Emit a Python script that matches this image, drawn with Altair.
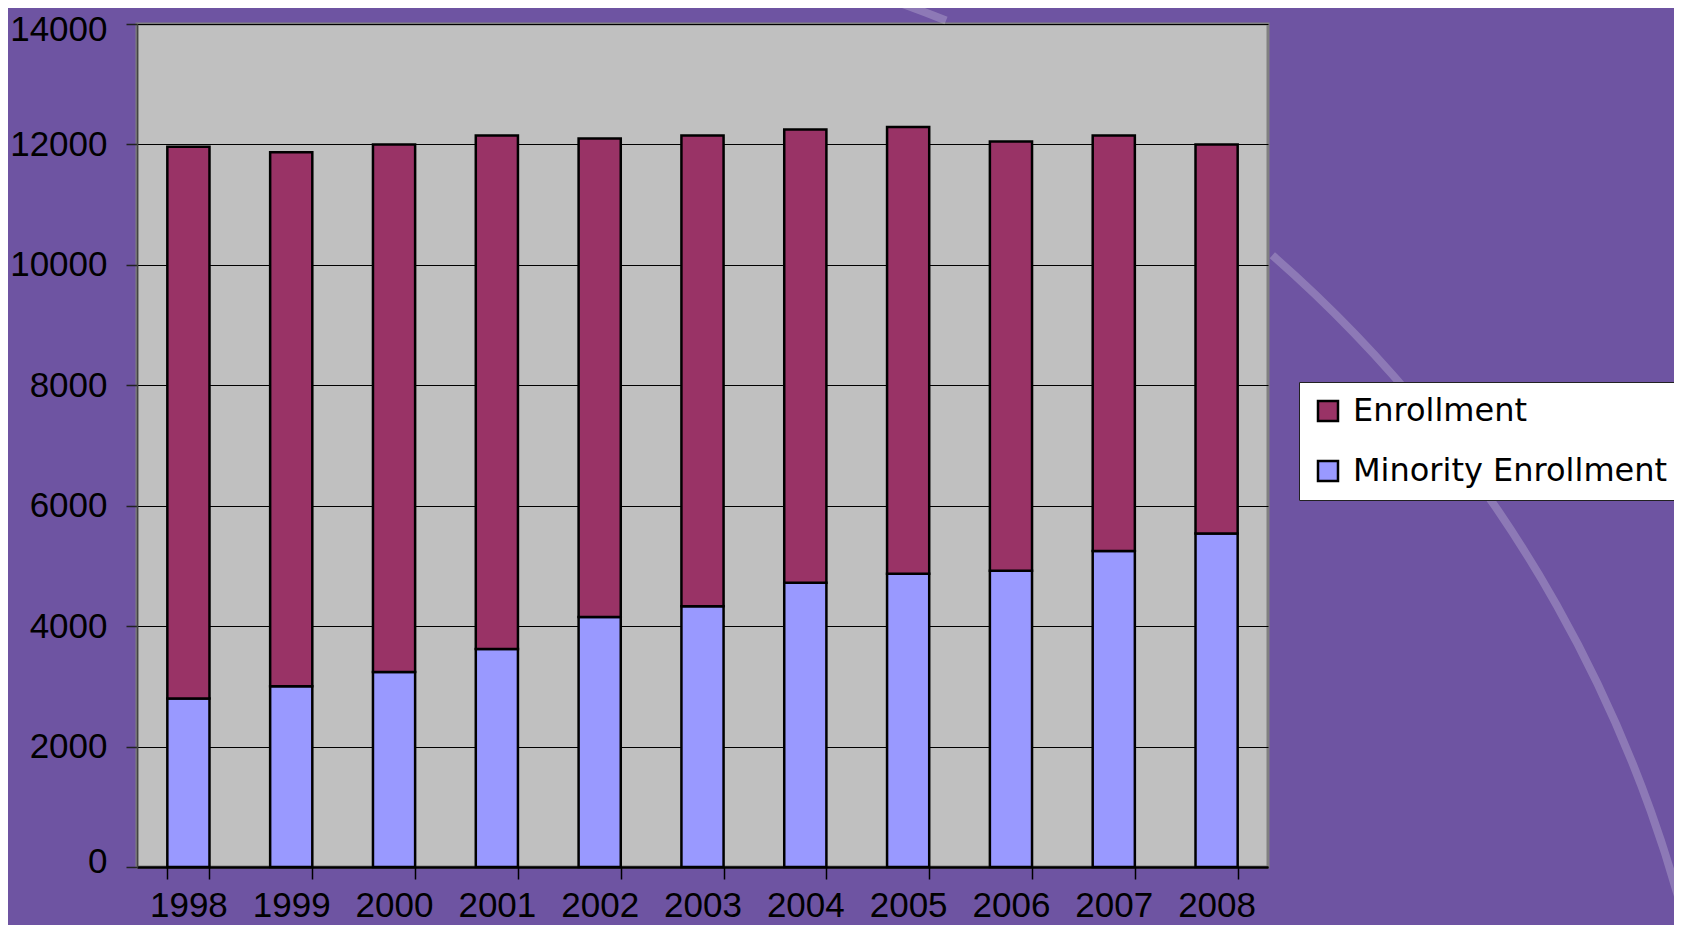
import math
import altair as alt
import pandas as pd

# ---- data ----
years = ["1998", "1999", "2000", "2001", "2002", "2003", "2004", "2005", "2006", "2007", "2008"]
minority_enrollment = [2800, 3000, 3240, 3620, 4150, 4330, 4720, 4870, 4920, 5250, 5540]
enrollment = [9160, 8870, 8760, 8530, 7950, 7820, 7530, 7420, 7130, 6900, 6460]
series_names = ["Enrollment", "Minority Enrollment"]
series_colors = ["#993366", "#9999FF"]
y_ticks = [0, 2000, 4000, 6000, 8000, 10000, 12000, 14000]

# ---- styling ----
BG = "#6E54A2"
PLOT_W, PLOT_H = 1131, 843
FONT = "Liberation Sans"

rows = []
for i, yr in enumerate(years):
    rows.append({"year": yr, "series": "Minority Enrollment", "value": minority_enrollment[i], "ord": 0})
    rows.append({"year": yr, "series": "Enrollment", "value": enrollment[i], "ord": 1})
df = pd.DataFrame(rows)

bars = alt.Chart(df).mark_bar(stroke="black", strokeWidth=2.5).encode(
    x=alt.X(
        "year:N",
        sort=years,
        scale=alt.Scale(paddingInner=0.59, paddingOuter=0.295),
        axis=alt.Axis(
            title=None, labelAngle=0, tickBand="extent", grid=False,
            labelFont=FONT, labelFontSize=35, labelColor="black",
            labelBaseline="alphabetic", labelPadding=37,
            tickSize=12, tickColor="black", tickWidth=1.5,
            domainColor="black", domainWidth=2.5,
        ),
    ),
    y=alt.Y(
        "value:Q",
        stack="zero",
        scale=alt.Scale(domain=[0, 14000], nice=False),
        axis=alt.Axis(
            title=None, values=y_ticks, format="d", grid=True, gridColor="black", gridWidth=1,
            labelFont=FONT, labelFontSize=35, labelColor="black", labelPadding=19,
            labelFlush=True, labelFlushOffset=12,
            tickSize=11, tickColor="#222222", tickWidth=1.5,
            domainColor="#444444", domainWidth=1.5,
        ),
    ),
    color=alt.Color(
        "series:N",
        scale=alt.Scale(domain=series_names, range=series_colors),
        legend=alt.Legend(
            title=None, orient="none", legendX=1162, legendY=358,
            fillColor="white", strokeColor="#222222", padding=13,
            labelFont="DejaVu Sans", labelFontSize=32, labelColor="black",
            labelLimit=500, labelOffset=9,
            symbolType="square", symbolSize=400, symbolStrokeColor="black",
            symbolStrokeWidth=2.5, symbolOpacity=1, rowPadding=28,
        ),
    ),
    order=alt.Order("ord:Q"),
)

# ---- decorative background arcs of the slide template ----
deco = pd.DataFrame({"k": [0]})
deg = math.pi / 180
arc_top = alt.Chart(deco).mark_arc(
    innerRadius=1334, outerRadius=1342, color="white", opacity=0.22
).encode(theta=alt.value(19.0 * deg), theta2=alt.value(21.9 * deg),
         x=alt.value(310), y=alt.value(1238))
arc_right = alt.Chart(deco).mark_arc(
    innerRadius=1334, outerRadius=1342, color="white", opacity=0.22
).encode(theta=alt.value(41.2 * deg), theta2=alt.value(80.0 * deg),
         x=alt.value(254), y=alt.value(1238))

chart = alt.layer(arc_top, arc_right, bars).properties(
    width=PLOT_W,
    height=PLOT_H,
    autosize=alt.AutoSizeParams(type="none"),
    padding={"left": 129, "top": 16, "right": 406, "bottom": 58},
).configure(
    background=BG,
).configure_view(
    fill="#C0C0C0", stroke="#808080", strokeWidth=3,
)

chart.save("out.html", embed_options={"renderer": "svg", "actions": False})
